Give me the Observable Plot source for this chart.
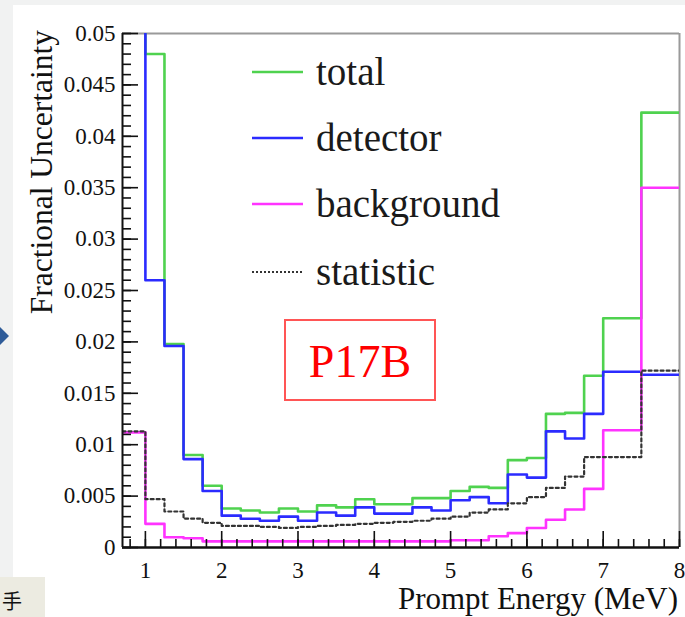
<!DOCTYPE html>
<html><head><meta charset="utf-8">
<script src="https://cdn.jsdelivr.net/npm/d3@7"></script>
<script src="https://cdn.jsdelivr.net/npm/@observablehq/plot@0.6"></script>
<style>
html,body{margin:0;padding:0;background:#f1f2f2;}
#wrap{position:relative;width:685px;height:617px;overflow:hidden;}
#white{position:absolute;left:13px;top:5px;right:0;bottom:0;background:#fff;}
#chart{position:absolute;left:0;top:0;}
#arrow{position:absolute;left:0;top:327px;width:0;height:0;border-top:9px solid transparent;border-bottom:9px solid transparent;border-left:9px solid #2f5c99;}
#note{position:absolute;left:0;top:577px;width:45px;height:40px;background:#ecebe1;overflow:hidden;}
#note span{position:absolute;left:2px;top:12px;font-family:"Noto Sans CJK SC";font-size:20px;line-height:24px;color:#111;}
</style></head>
<body>
<div id="wrap">
  <div id="white"></div>
  <div id="arrow"></div>
  <div id="note"><span>手</span></div>
  <div id="chart"></div>
</div>
<script>
// bin edges (MeV)
const edges = [0.7, 1.0, 1.25, 1.5, 1.75, 2.0, 2.25, 2.5, 2.75, 3.0, 3.25, 3.5, 3.75, 4.0, 4.25, 4.5, 4.75, 5.0, 5.25, 5.5, 5.75, 6.0, 6.25, 6.5, 6.75, 7.0, 7.5, 8.0];
// values per bin
const total = [0.0600, 0.0480, 0.0198, 0.0090, 0.0060, 0.0038, 0.0036, 0.0034, 0.0038, 0.0035, 0.0041, 0.0039, 0.0047, 0.0042, 0.0042, 0.0048, 0.0048, 0.0055, 0.0059, 0.0058, 0.0085, 0.0087, 0.0130, 0.0131, 0.0167, 0.0223, 0.0423];
const detector = [0.0600, 0.0260, 0.0196, 0.0086, 0.0055, 0.0031, 0.0028, 0.0026, 0.0030, 0.0026, 0.0034, 0.0031, 0.0039, 0.0033, 0.0033, 0.0039, 0.0036, 0.0046, 0.0049, 0.0043, 0.0071, 0.0068, 0.0113, 0.0106, 0.0130, 0.0171, 0.0168];
const background = [0.0112, 0.0023, 0.0010, 0.0009, 0.0006, 0.0006, 0.0006, 0.0006, 0.0006, 0.0006, 0.0006, 0.0006, 0.0006, 0.0006, 0.0006, 0.0006, 0.0006, 0.0007, 0.0007, 0.0011, 0.0014, 0.0019, 0.0027, 0.0037, 0.0057, 0.0114, 0.0350];
const statistic = [0.0113, 0.0047, 0.0035, 0.0028, 0.0024, 0.0021, 0.0021, 0.0020, 0.0019, 0.0020, 0.0021, 0.0022, 0.0023, 0.0024, 0.0025, 0.0026, 0.0028, 0.0030, 0.0034, 0.0037, 0.0043, 0.0049, 0.0058, 0.0069, 0.0088, 0.0088, 0.0172];

const seriesNames = ["total", "detector", "background", "statistic"];
const yTicks = [0, 0.005, 0.01, 0.015, 0.02, 0.025, 0.03, 0.035, 0.04, 0.045, 0.05];
const yTickLabels = ["0", "0.005", "0.01", "0.015", "0.02", "0.025", "0.03", "0.035", "0.04", "0.045", "0.05"];
const xTicks = [1, 2, 3, 4, 5, 6, 7, 8];
const xTickLabels = ["1", "2", "3", "4", "5", "6", "7", "8"];
const xTitle = "Prompt Energy (MeV)";
const yTitle = "Fractional Uncertainty";
const tag = "P17B";

const W = 685, H = 617, mL = 122, mR = 6, mT = 33, mB = 70;
const fw = W - mL - mR, fh = H - mT - mB;
const FONT = "'Liberation Serif', 'Times New Roman', serif";

const styles = {
  total: {stroke: "#4fd24f", width: 2.6, dash: null},
  detector: {stroke: "#2b2bff", width: 2.6, dash: null},
  background: {stroke: "#ff33ff", width: 2.6, dash: null},
  statistic: {stroke: "#333333", width: 2.2, dash: "3,3"}
};
const valuesOf = {total, detector, background, statistic};
const steps = name => edges.map((e, i) => ({x: e, y: valuesOf[name][Math.min(i, valuesOf[name].length - 1)]}));

const yMinor = d3.range(0, 0.05001, 0.001).map(v => +v.toFixed(4));
const xMinor = d3.range(0.8, 8.0001, 0.2).map(v => +v.toFixed(2));
const yLab = new Map(yTicks.map((t, i) => [t, yTickLabels[i]]));
const xLab = new Map(xTicks.map((t, i) => [t, xTickLabels[i]]));

const plot = Plot.plot({
  width: W, height: H,
  marginLeft: mL, marginRight: mR, marginTop: mT, marginBottom: mB,
  style: {background: "transparent", fontFamily: FONT, color: "#111"},
  x: {domain: [0.7, 8]},
  y: {domain: [0, 0.05]},
  marks: [
    Plot.ruleY([0.05], {stroke: "#9a9a9a", strokeWidth: 2}),
    Plot.ruleX([8], {stroke: "#9a9a9a", strokeWidth: 2}),
    ...seriesNames.map(n => Plot.line(steps(n), {
      x: "x", y: "y", curve: "step-after", clip: true,
      stroke: styles[n].stroke, strokeWidth: styles[n].width,
      strokeDasharray: styles[n].dash
    })),
    Plot.tickY(yMinor, {y: d => d, insetRight: fw - 9, stroke: "#111", strokeWidth: 1.6}),
    Plot.tickY(yTicks, {y: d => d, insetRight: fw - 16, stroke: "#111", strokeWidth: 1.6}),
    Plot.tickX(xMinor, {x: d => d, insetTop: fh - 8, stroke: "#111", strokeWidth: 1.6}),
    Plot.tickX(xTicks, {x: d => d, insetTop: fh - 16, stroke: "#111", strokeWidth: 1.6}),
    Plot.ruleX([0.7], {stroke: "#111", strokeWidth: 2}),
    Plot.ruleY([0], {stroke: "#111", strokeWidth: 2.5}),
    Plot.axisY(yTicks, {tickSize: 0, tickPadding: 7, tickFormat: d => yLab.get(d), fontSize: 23, label: null}),
    Plot.axisX(xTicks, {tickSize: 0, tickPadding: 14, tickFormat: d => xLab.get(d), fontSize: 23, label: null})
  ]
});
document.getElementById("chart").appendChild(plot);

const svg = d3.select(plot);
// axis titles
svg.append("text").text(yTitle)
  .attr("transform", "translate(52,30) rotate(-90)")
  .attr("text-anchor", "end").attr("font-family", FONT).attr("font-size", 31.5).attr("fill", "#111");
svg.append("text").text(xTitle)
  .attr("x", 678).attr("y", 609)
  .attr("text-anchor", "end").attr("font-family", FONT).attr("font-size", 31).attr("fill", "#111");

// legend
const legY = [72, 138, 204, 272];
seriesNames.forEach((n, i) => {
  svg.append("line").attr("x1", 252).attr("x2", 303).attr("y1", legY[i]).attr("y2", legY[i])
    .attr("stroke", styles[n].stroke).attr("stroke-width", n === "statistic" ? 2 : 2.4)
    .attr("stroke-dasharray", n === "statistic" ? "2,2" : null);
  svg.append("text").text(n).attr("x", 316).attr("y", legY[i] + 13)
    .attr("text-anchor", "start")
    .attr("font-family", FONT).attr("font-size", 39).attr("fill", "#1a1a1a");
});
// tag box
svg.append("rect").attr("x", 285).attr("y", 320).attr("width", 150).attr("height", 80)
  .attr("fill", "none").attr("stroke", "#ff5555").attr("stroke-width", 2);
svg.append("text").text(tag).attr("x", 360).attr("y", 377).attr("text-anchor", "middle")
  .attr("font-family", FONT).attr("font-size", 46).attr("fill", "#ff0000");
</script>
</body></html>
